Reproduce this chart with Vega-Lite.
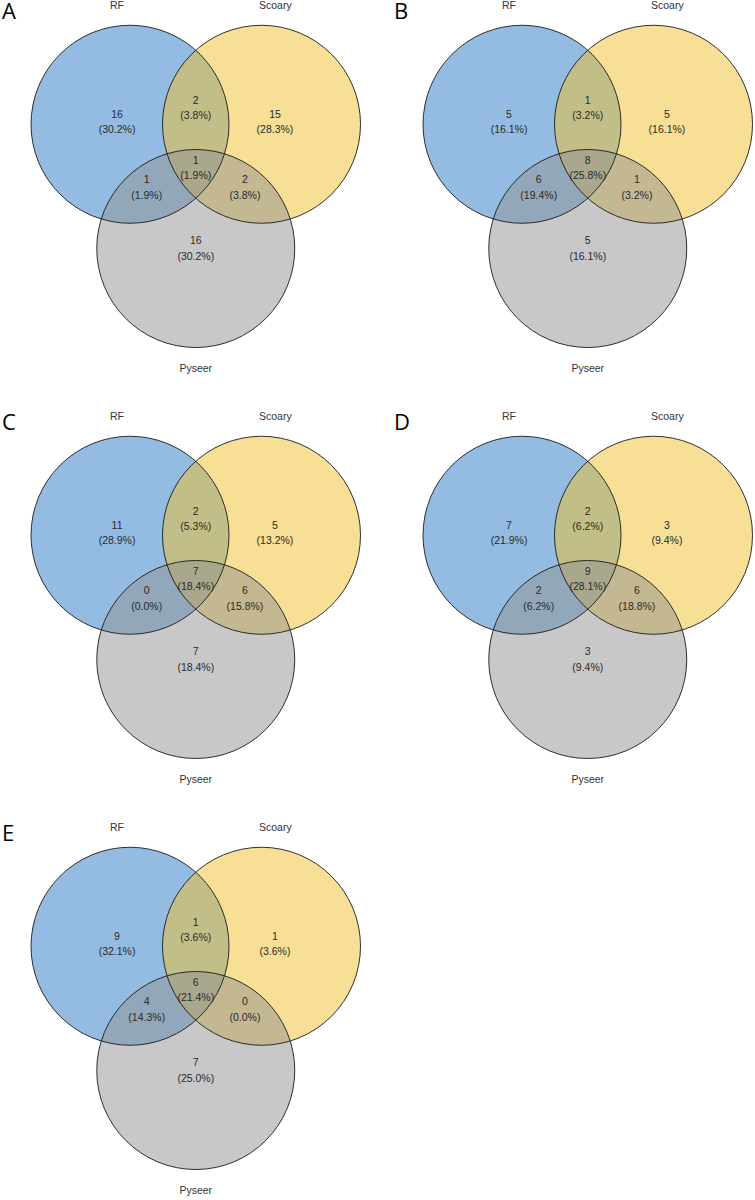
{
  "$schema": "https://vega.github.io/schema/vega-lite/v6.json",
  "padding": 0,
  "autosize": {"type": "pad"},
  "background": "white",
  "config": {
    "view": {"stroke": null},
    "text": {"font": "Liberation Sans"}
  },
  "datasets": {
    "counts": [
      {"panel": "A", "region": "RF", "count": 16, "pct": 30.2},
      {"panel": "A", "region": "Scoary", "count": 15, "pct": 28.3},
      {"panel": "A", "region": "Pyseer", "count": 16, "pct": 30.2},
      {"panel": "A", "region": "RF∩Scoary", "count": 2, "pct": 3.8},
      {"panel": "A", "region": "RF∩Pyseer", "count": 1, "pct": 1.9},
      {"panel": "A", "region": "Scoary∩Pyseer", "count": 2, "pct": 3.8},
      {"panel": "A", "region": "All", "count": 1, "pct": 1.9},
      {"panel": "B", "region": "RF", "count": 5, "pct": 16.1},
      {"panel": "B", "region": "Scoary", "count": 5, "pct": 16.1},
      {"panel": "B", "region": "Pyseer", "count": 5, "pct": 16.1},
      {"panel": "B", "region": "RF∩Scoary", "count": 1, "pct": 3.2},
      {"panel": "B", "region": "RF∩Pyseer", "count": 6, "pct": 19.4},
      {"panel": "B", "region": "Scoary∩Pyseer", "count": 1, "pct": 3.2},
      {"panel": "B", "region": "All", "count": 8, "pct": 25.8},
      {"panel": "C", "region": "RF", "count": 11, "pct": 28.9},
      {"panel": "C", "region": "Scoary", "count": 5, "pct": 13.2},
      {"panel": "C", "region": "Pyseer", "count": 7, "pct": 18.4},
      {"panel": "C", "region": "RF∩Scoary", "count": 2, "pct": 5.3},
      {"panel": "C", "region": "RF∩Pyseer", "count": 0, "pct": 0.0},
      {"panel": "C", "region": "Scoary∩Pyseer", "count": 6, "pct": 15.8},
      {"panel": "C", "region": "All", "count": 7, "pct": 18.4},
      {"panel": "D", "region": "RF", "count": 7, "pct": 21.9},
      {"panel": "D", "region": "Scoary", "count": 3, "pct": 9.4},
      {"panel": "D", "region": "Pyseer", "count": 3, "pct": 9.4},
      {"panel": "D", "region": "RF∩Scoary", "count": 2, "pct": 6.2},
      {"panel": "D", "region": "RF∩Pyseer", "count": 2, "pct": 6.2},
      {"panel": "D", "region": "Scoary∩Pyseer", "count": 6, "pct": 18.8},
      {"panel": "D", "region": "All", "count": 9, "pct": 28.1},
      {"panel": "E", "region": "RF", "count": 9, "pct": 32.1},
      {"panel": "E", "region": "Scoary", "count": 1, "pct": 3.6},
      {"panel": "E", "region": "Pyseer", "count": 7, "pct": 25.0},
      {"panel": "E", "region": "RF∩Scoary", "count": 1, "pct": 3.6},
      {"panel": "E", "region": "RF∩Pyseer", "count": 4, "pct": 14.3},
      {"panel": "E", "region": "Scoary∩Pyseer", "count": 0, "pct": 0.0},
      {"panel": "E", "region": "All", "count": 6, "pct": 21.4}
    ],
    "layout": [
      {"region": "RF", "tx": -0.795, "ty": 0.02, "cx": -0.664, "cy": 0, "lx": -0.795, "ly": 1.197, "ord": 1, "kind": "set"},
      {"region": "Scoary", "tx": 0.80, "ty": 0.02, "cx": 0.664, "cy": 0, "lx": 0.804, "ly": 1.197, "ord": 2, "kind": "set"},
      {"region": "Pyseer", "tx": 0, "ty": -1.258, "cx": 0, "cy": -1.255, "lx": 0, "ly": -2.472, "ord": 3, "kind": "set"},
      {"region": "RF∩Scoary", "tx": 0, "ty": 0.162, "kind": "overlap"},
      {"region": "RF∩Pyseer", "tx": -0.495, "ty": -0.64, "kind": "overlap"},
      {"region": "Scoary∩Pyseer", "tx": 0.497, "ty": -0.64, "kind": "overlap"},
      {"region": "All", "tx": 0, "ty": -0.442, "kind": "overlap"}
    ]
  },
  "data": {"name": "counts"},
  "transform": [
    {"lookup": "region", "from": {"data": {"name": "layout"}, "key": "region", "fields": ["tx", "ty", "cx", "cy", "lx", "ly", "ord", "kind"]}},
    {"calculate": "'(' + format(datum.pct, '.1f') + '%)'", "as": "pctLabel"}
  ],
  "facet": {"field": "panel", "type": "nominal", "title": null, "header": {"title": null, "labelFontSize": 0, "labelPadding": 0, "labelColor": "transparent", "labelLimit": 1}},
  "columns": 2,
  "spacing": {"row": 31, "column": 29},
  "spec": {
    "width": 363,
    "height": 380,
    "layer": [
      {
        "transform": [{"filter": "datum.kind === 'set'"}],
        "mark": {"type": "point", "shape": "circle", "filled": true, "size": 39204, "fillOpacity": 0.5, "opacity": 1, "strokeWidth": 0},
        "encoding": {
          "x": {"field": "cx", "type": "quantitative", "scale": {"domain": [-1.977, 1.689], "nice": false, "zero": false}, "axis": null},
          "y": {"field": "cy", "type": "quantitative", "scale": {"domain": [-2.583, 1.255], "nice": false, "zero": false}, "axis": null},
          "color": {"field": "region", "type": "nominal", "scale": {"domain": ["RF", "Scoary", "Pyseer"], "range": ["#2979c5", "#efbf2b", "#919191"]}, "legend": null},
          "order": {"field": "ord", "type": "quantitative"}
        }
      },
      {
        "transform": [{"filter": "datum.kind === 'set'"}],
        "mark": {"type": "point", "shape": "circle", "filled": false, "size": 39204, "color": "#1a1a1a", "strokeWidth": 0.9, "opacity": 1},
        "encoding": {
          "x": {"field": "cx", "type": "quantitative", "axis": null},
          "y": {"field": "cy", "type": "quantitative", "axis": null}
        }
      },
      {
        "mark": {"type": "text", "fontSize": 10.5, "color": "#2a2a2a", "dy": -7.5},
        "encoding": {
          "x": {"field": "tx", "type": "quantitative", "axis": null},
          "y": {"field": "ty", "type": "quantitative", "axis": null},
          "text": {"field": "count", "type": "quantitative"}
        }
      },
      {
        "mark": {"type": "text", "fontSize": 10.5, "color": "#2a2a2a", "dy": 8},
        "encoding": {
          "x": {"field": "tx", "type": "quantitative", "axis": null},
          "y": {"field": "ty", "type": "quantitative", "axis": null},
          "text": {"field": "pctLabel", "type": "nominal"}
        }
      },
      {
        "transform": [{"filter": "datum.kind === 'set'"}],
        "mark": {"type": "text", "fontSize": 10.5, "color": "#333333"},
        "encoding": {
          "x": {"field": "lx", "type": "quantitative", "axis": null},
          "y": {"field": "ly", "type": "quantitative", "axis": null},
          "text": {"field": "region", "type": "nominal"}
        }
      },
      {
        "transform": [{"filter": "datum.region === 'RF'"}],
        "mark": {"type": "text", "font": "Open Sans", "fontSize": 22, "color": "#000000", "align": "left", "baseline": "alphabetic", "dx": -115, "dy": -103},
        "encoding": {
          "x": {"field": "tx", "type": "quantitative", "axis": null},
          "y": {"field": "ty", "type": "quantitative", "axis": null},
          "text": {"field": "panel", "type": "nominal"}
        }
      }
    ]
  }
}
